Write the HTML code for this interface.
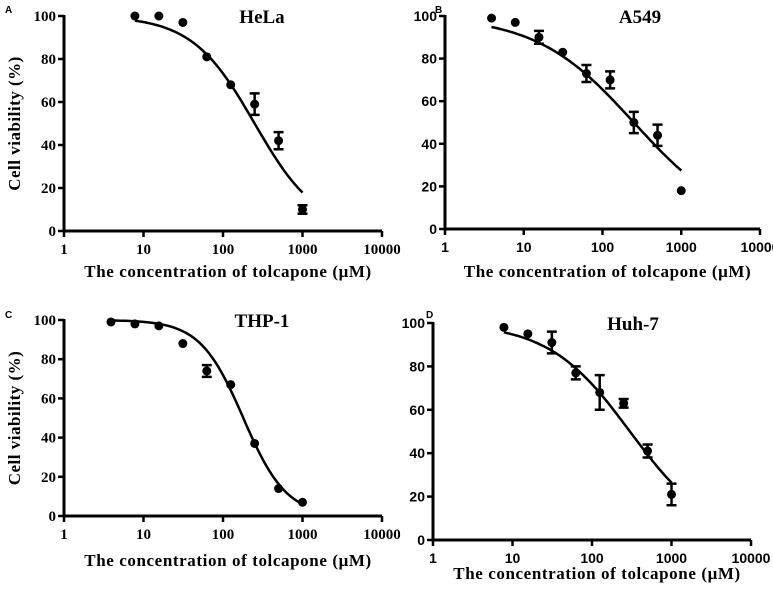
<!DOCTYPE html>
<html><head><meta charset="utf-8"><style>
body{margin:0;background:#fff;}
svg{display:block;}
</style></head><body>
<svg id="fig" width="773" height="600" viewBox="0 0 773 600" xmlns="http://www.w3.org/2000/svg"></svg>
<script>
const xTicks = [1, 10, 100, 1000, 10000];
const xTickLabels = ["1", "10", "100", "1000", "10000"];
const yTicks = [0, 20, 40, 60, 80, 100];
const yTickLabels = ["0", "20", "40", "60", "80", "100"];

const titles = ["HeLa", "A549", "THP-1", "Huh-7"];
const letters = ["A", "B", "C", "D"];

const concA = [7.8, 15.6, 31.25, 62.5, 125, 250, 500, 1000];
const viabA = [100, 100, 97, 81, 68, 59, 42, 10];
const errA = [0, 0, 0, 0, 0, 5, 4, 2];
const fitA = [100, 0, 250, 1.1];

const concB = [3.9, 7.8, 15.6, 31.25, 62.5, 125, 250, 500, 1000];
const viabB = [99, 97, 90, 83, 73, 70, 50, 44, 18];
const errB = [0, 0, 3, 0, 4, 4, 5, 5, 0];
const fitB = [100, 0, 250, 0.7];

const concC = [3.9, 7.8, 15.6, 31.25, 62.5, 125, 250, 500, 1000];
const viabC = [99, 98, 97, 88, 74, 67, 37, 14, 7];
const errC = [0, 0, 0, 0, 3, 0, 0, 0, 0];
const fitC = [100, 0, 180, 1.6];

const concD = [7.8, 15.6, 31.25, 62.5, 125, 250, 500, 1000];
const viabD = [98, 95, 91, 77, 68, 63, 41, 21];
const errD = [0, 0, 5, 3, 8, 2, 3, 5];
const fitD = [100, 0, 300, 0.85];

const NS = "http://www.w3.org/2000/svg";
const svg = document.getElementById("fig");
function mk(tag, attrs, parent) {
  const e = document.createElementNS(NS, tag);
  for (const k in attrs) e.setAttribute(k, attrs[k]);
  (parent || svg).appendChild(e);
  return e;
}
const panels = [
  {x0:64, x1:382, y0:231, y1:16, serif:true, conc:concA, viab:viabA, err:errA, fit:fitA, lx:5, ly:13, tx:262, ty:23, xtY:277, ytX:15},
  {x0:445, x1:760, y0:229, y1:16, serif:false, conc:concB, viab:viabB, err:errB, fit:fitB, lx:435, ly:13, tx:640, ty:23, xtY:277, ytX:null},
  {x0:64, x1:382, y0:516, y1:320, serif:true, conc:concC, viab:viabC, err:errC, fit:fitC, lx:5, ly:318, tx:262, ty:327, xtY:566, ytX:15},
  {x0:433, x1:751, y0:540, y1:323, serif:false, conc:concD, viab:viabD, err:errD, fit:fitD, lx:426, ly:318, tx:633, ty:330, xtY:579, ytX:null}
];
const serifF = '"Liberation Serif", serif';
const sansF = '"Liberation Sans", sans-serif';

panels.forEach((p, i) => {
  const g = mk("g", {});
  
  
  const xs = v => p.x0 + (Math.log10(v) / 4) * (p.x1 - p.x0);
  const ys = v => p.y0 + (v / 100) * (p.y1 - p.y0);

  const L = mk("text", {x:p.lx, y:p.ly, "font-family":sansF, "font-weight":"bold", "font-size":10}, g);
  L.textContent = letters[i];
  
  

  const T = mk("text", {x:p.tx, y:p.ty, "text-anchor":"middle", "font-family":serifF, "font-weight":"bold", "font-size":19}, g);
  T.textContent = titles[i];
  
  

  const ax = mk("path", {d:`M${p.x0} ${p.y1-1} L${p.x0} ${p.y0} L${p.x1} ${p.y0}`, stroke:"#000", "stroke-width":3, fill:"none"}, g);
  
  

  const tf = p.serif ? serifF : sansF;
  xTicks.forEach((t, k) => {
    const x = xs(t);
    mk("line", {x1:x, x2:x, y1:p.y0, y2:p.y0+6, stroke:"#000", "stroke-width":2.5}, g);
    const tl = mk("text", {x:x, y:p.y0+23, "text-anchor":"middle", "font-family":tf, "font-weight":"bold", "font-size":p.serif?15:14}, g);
    tl.textContent = xTickLabels[k];
    
    
  });
  yTicks.forEach((t, k) => {
    const y = ys(t);
    mk("line", {x1:p.x0-6, x2:p.x0, y1:y, y2:y, stroke:"#000", "stroke-width":2.5}, g);
    const tl = mk("text", {x:p.x0-8, y:y+5, "text-anchor":"end", "font-family":tf, "font-weight":"bold", "font-size":p.serif?15:14}, g);
    tl.textContent = yTickLabels[k];
    
    
  });

  const xt = mk("text", {x:(p.x0+p.x1)/2+5, y:p.xtY, "text-anchor":"middle", "font-family":serifF, "font-weight":"bold", "font-size":17, "letter-spacing":0.6}, g);
  xt.textContent = "The concentration of tolcapone (\u03bcM)";
  
  
  if (p.ytX !== null) {
    const cy = (p.y0 + p.y1) / 2;
    const yt = mk("text", {x:p.ytX, y:cy, "text-anchor":"middle", "font-family":serifF, "font-weight":"bold", "font-size":17, "letter-spacing":0.5, transform:`rotate(-90 ${p.ytX} ${cy})`, dy:5}, g);
    yt.textContent = "Cell viability (%)";
    
    
  }

  const [top, bot, ic, h] = p.fit;
  const lo = Math.log10(p.conc[0]), hi = Math.log10(p.conc[p.conc.length-1]);
  let d = "";
  for (let s = 0; s <= 80; s++) {
    const c = Math.pow(10, lo + (hi - lo) * s / 80);
    const v = bot + (top - bot) / (1 + Math.pow(c / ic, h));
    d += (s ? "L" : "M") + xs(c).toFixed(1) + " " + ys(v).toFixed(1);
  }
  const cv = mk("path", {d:d, stroke:"#000", "stroke-width":2.5, fill:"none"}, g);
  
  

  p.conc.forEach((c, k) => {
    const x = xs(c), y = ys(p.viab[k]);
    if (p.err[k] > 0) {
      const ya = ys(p.viab[k] + p.err[k]), yb = ys(p.viab[k] - p.err[k]);
      const eb = mk("path", {d:`M${x} ${ya} L${x} ${yb} M${x-5} ${ya} L${x+5} ${ya} M${x-5} ${yb} L${x+5} ${yb}`, stroke:"#000", "stroke-width":2.5, fill:"none"}, g);
      
      
    }
    const pt = mk("circle", {cx:x, cy:y, r:4.5, fill:"#000"}, g);
    
    
  });
});
</script>
</body></html>
